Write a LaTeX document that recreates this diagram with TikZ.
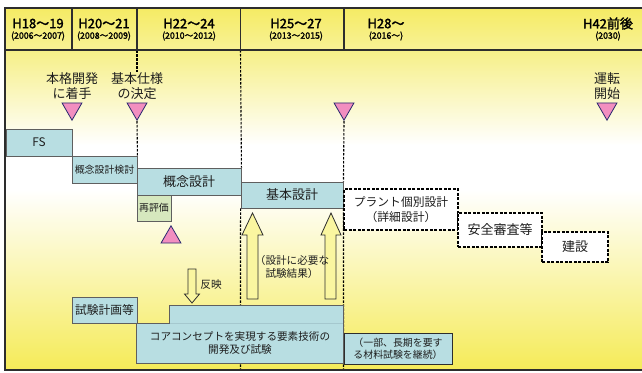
\documentclass[tikz,border=0pt]{standalone}
\usepackage{fontspec}
\setmainfont{Noto Sans CJK JP}[AutoFakeBold=2]
\usetikzlibrary{shapes.geometric}
\definecolor{boxblue}{RGB}{184,222,226}
\definecolor{boxline}{RGB}{95,95,95}
\definecolor{boxgreen}{RGB}{214,232,190}
\definecolor{pinkt}{RGB}{242,142,192}
\definecolor{navy}{RGB}{40,40,110}
\definecolor{hdrtop}{RGB}{245,235,100}
\definecolor{hdrbot}{RGB}{248,242,150}
\definecolor{bodytop}{RGB}{246,239,135}
\definecolor{bodybot}{RGB}{245,235,88}
\definecolor{bodymid}{RGB}{251,248,200}
\definecolor{arrowfill}{RGB}{250,246,160}
\definecolor{txt}{RGB}{30,30,30}
\definecolor{framec}{RGB}{45,45,45}
\definecolor{lightline}{RGB}{165,200,206}
\tikzset{
  fa/.style={font=\fontsize{9.9}{12}\selectfont},
  fb/.style={font=\fontsize{10.6}{13}\selectfont},
  fc/.style={font=\fontsize{11.8}{14.5}\selectfont},
  fd/.style={font=\fontsize{13}{15}\selectfont},
  bluebox/.style={draw=boxline, line width=0.9pt, fill=boxblue, inner sep=0pt, align=center, text=txt},
  greenbox/.style={bluebox, fill=boxgreen},
  dbox/.style={draw=black, line width=1.2pt, dash pattern=on 3pt off 1.5pt, fill=white, inner sep=0pt, align=center, text=txt},
  tri/.style={regular polygon, regular polygon sides=3, draw=navy, line width=0.8pt, fill=pinkt, inner sep=0pt, minimum size=23pt},
  dline/.style={black, line width=1.1pt, dash pattern=on 2.5pt off 1.5pt},
  lbl/.style={align=center, text=txt, inner sep=1pt},
  barrow/.style={draw=framec, line width=0.8pt, fill=arrowfill, line join=miter},
  hdr/.style={text=black, inner sep=0pt, font=\fontsize{13}{15}\selectfont\bfseries},
  yr/.style={text=black, inner sep=0pt, font=\fontsize{8.8}{10}\selectfont\bfseries},
}
\begin{document}
\begin{tikzpicture}[x=1pt,y=-1pt]
\useasboundingbox (0,0) rectangle (642,372);
\clip (0,0) rectangle (642,372);
% backgrounds
\fill[white] (0,0) rectangle (642,372);
\fill[top color=hdrtop, bottom color=hdrbot] (5,8) rectangle (660,50);
\fill[top color=bodytop, bottom color=white] (5,50) rectangle (660,145);
\fill[white] (5,145) rectangle (660,190);
\fill[top color=white, middle color=bodymid, bottom color=bodybot] (5,190) rectangle (660,370);

% header texts
\node[hdr] (h1) at (38,23.5) {H18～19};
\node[yr]  (y1) at (38,36) {(2006～2007)};
\node[hdr] (h2) at (104,23.5) {H20～21};
\node[yr]  (y2) at (104,36) {(2008～2009)};
\node[hdr] (h3) at (189,23.5) {H22～24};
\node[yr]  (y3) at (189,36) {(2010～2012)};
\node[hdr] (h4) at (296,23.5) {H25～27};
\node[yr]  (y4) at (296,36) {(2013～2015)};
\node[hdr] (h5) at (386,23.5) {H28～};
\node[yr]  (y5) at (386,36) {(2016～)};
\node[hdr] (h6) at (608,23.5) {H42前後};
\node[yr]  (y6) at (608,36) {(2030)};

% milestone labels
\node[lbl, fd] (l1) at (72,86.5) {本格開発\\に着手};
\node[lbl, fd] (l2) at (137,86.5) {基本仕様\\の決定};
\node[lbl, fd] (l3) at (607,86) {運転\\開始};

% triangles
\node[tri, shape border rotate=180, anchor=south] (t1) at (72,121) {};
\node[tri, shape border rotate=180, anchor=south] (t2) at (137,121) {};
\node[tri, shape border rotate=180, anchor=south] (t3) at (344,121) {};
\node[tri, shape border rotate=180, anchor=south] (t5) at (607,121) {};

% boxes
\node[bluebox, fc, minimum width=66pt, minimum height=27pt] (fs) at (39,142.5) {FS};
\node[bluebox, fa, minimum width=65pt, minimum height=27pt] (kkk) at (104.5,169.5) {概念設計検討};
\node[bluebox, fd, minimum width=104pt, minimum height=27pt] (gainen) at (189,181.5) {概念設計};
\node[bluebox, fd, minimum width=102pt, minimum height=26pt] (kihon) at (292,195) {基本設計};
\node[greenbox, fa, minimum width=34pt, minimum height=26pt] (saihyoka) at (154,208) {再評価};
\node[tri, anchor=north] (t4) at (171,225) {};

% dashed connectors
\coordinate (c137) at (137,50);
\coordinate (c240) at (240.5,50);
\coordinate (b240) at (240.5,371);
\coordinate (b344) at (343.5,371);
\draw[dline] (c137) -- (c137 |- l2.north);
\draw[dline] (t2.south) -- (kkk.north east);
\draw[dline] (c240) -- (gainen.north east);
\draw[dline] (kihon.south west) -- (b240);
\draw[dline] (t3.south) -- (kihon.north east);
\draw[dline] (kihon.south east) -- (b344);

\node[bluebox, fc, minimum width=65pt, minimum height=26pt] (shiken) at (104.5,310) {試験計画等};
\node[bluebox, draw=none, minimum width=173pt, minimum height=17pt] (coretop) at (256.5,314.5) {};
\node[bluebox, draw=none, fb, minimum width=206pt, minimum height=40pt] (core) at (240,343) {コアコンセプトを実現する要素技術の\\開発及び試験};
\draw[lightline, line width=0.9pt] (coretop.south west) -- (coretop.south east);
\draw[boxline, line width=0.9pt] (core.south west) |- (coretop.south west) |- (coretop.north east) -- (core.south east) -- cycle;
\node[bluebox, fa, minimum width=108pt, minimum height=31pt, draw=framec] (ichibu) at (398,348.5) {（一部、長期を要す\\る材料試験を継続）};

\node[dbox, fc, minimum width=114pt, minimum height=41pt] (plant) at (401,209.5) {プラント個別設計\\（詳細設計）};
\node[dbox, fd, minimum width=84pt, minimum height=34pt] (anzen) at (500,230) {安全審査等};
\node[dbox, fd, minimum width=66pt, minimum height=30pt] (kensetsu) at (575,247) {建設};

% block arrows
\draw[barrow] (188,269) -- (196,269) -- (196,294) -- (199.5,294) -- (192,303) -- (184.5,294) -- (188,294) -- cycle;
\draw[barrow] (247,299) -- (247,235) -- (242,235) -- (252.5,213) -- (263,235) -- (258,235) -- (258,299) -- cycle;
\draw[barrow] (325,299) -- (325,235) -- (321,235) -- (331,213) -- (341,235) -- (336,235) -- (336,299) -- cycle;
\node[lbl, fb] (hanei) at (211,285) {反映};
\node[lbl, fb] (needs) at (292,267) {（設計に必要な\\試験結果）};

% frame
\draw[framec, line width=2pt] (5,50) -- (660,50);
\foreach \x in {72,137,240.5,344} \draw[framec, line width=1.6pt] (\x,8) -- (\x,50);
\draw[framec, line width=2pt] (660,8) -- (5,8) -- (5,370) -- (660,370);
\end{tikzpicture}
\end{document}
